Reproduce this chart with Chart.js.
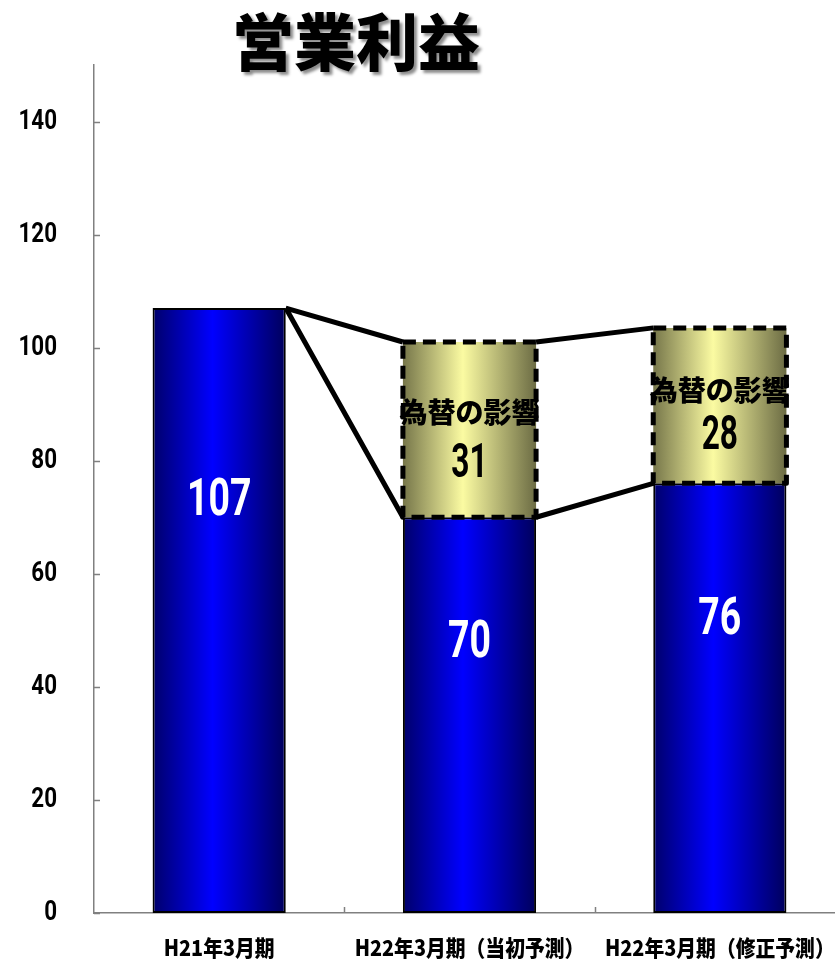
<!DOCTYPE html>
<html>
<head>
<meta charset="utf-8">
<script src="https://cdn.jsdelivr.net/npm/chart.js@4.4.0/dist/chart.umd.min.js"></script>
<style>
  html, body { margin: 0; padding: 0; background: #fff; overflow: hidden; }
  #wrap { position: relative; width: 845px; height: 960px; }
</style>
</head>
<body>
<div id="wrap"><canvas id="barChart"></canvas></div>
<script>
// 営業利益 (億円)
var title = '営業利益';
var categories = ['H21年3月期', 'H22年3月期（当初予測）', 'H22年3月期（修正予測）'];
var profitValues = [107, 70, 76];
var fxValues = [null, 31, 27.5];
var fxLabel = '為替の影響';
var yTicks = [0, 20, 40, 60, 80, 100, 120, 140];
var yMax = 150;

var BAR_PCT = 0.532;
var NUM_FONT = "Roboto, 'Noto Sans', sans-serif";
var JP_FONT = "'Noto Sans CJK JP', sans-serif";

// 横方向に縮めた文字（細長いフォントの代わり）
function drawNarrow(ctx, text, x, y, sx) {
  ctx.save();
  ctx.translate(x, y);
  ctx.scale(sx, 1);
  ctx.fillText(text, 0, 0);
  ctx.restore();
}

function makeGradient(ctx, el, stops) {
  var g = ctx.createLinearGradient(el.x - el.width / 2, 0, el.x + el.width / 2, 0);
  g.addColorStop(0, stops[0]);
  g.addColorStop(0.45, stops[1]);
  g.addColorStop(1, stops[2]);
  return g;
}

// 棒ごとのグラデーション（共有オプションを複製してから設定）
var barFill = {
  id: 'barFill',
  beforeDatasetsDraw: function (chart) {
    var stops = [['#00006a', '#0000ff', '#00005c'], ['#76764a', '#fbfba2', '#6c6c44']];
    [0, 1].forEach(function (d) {
      chart.getDatasetMeta(d).data.forEach(function (el) {
        el.options = Object.assign({}, el.options, {
          backgroundColor: makeGradient(chart.ctx, el, stops[d])
        });
      });
    });
  }
};

// 軸の目盛りと目盛りラベル
var axisTicks = {
  id: 'axisTicks',
  afterDraw: function (chart) {
    var ctx = chart.ctx, ys = chart.scales.y, xs = chart.scales.x;
    ctx.save();
    ctx.strokeStyle = '#808080';
    ctx.lineWidth = 1.5;
    ctx.beginPath();
    yTicks.forEach(function (v) {
      var py = Math.round(ys.getPixelForValue(v)) + 0.5;
      ctx.moveTo(xs.left, py);
      ctx.lineTo(xs.left + 6, py);
    });
    for (var i = 0; i < categories.length - 1; i++) {
      var px = Math.round((xs.getPixelForValue(i) + xs.getPixelForValue(i + 1)) / 2) + 0.5;
      ctx.moveTo(px, ys.bottom);
      ctx.lineTo(px, ys.bottom - 6);
    }
    ctx.stroke();

    ctx.fillStyle = '#000';
    ctx.textBaseline = 'middle';
    ctx.textAlign = 'right';
    ctx.font = 'bold 28px ' + NUM_FONT;
    yTicks.forEach(function (v) {
      drawNarrow(ctx, String(v), xs.left - 37, ys.getPixelForValue(v), 0.8);
    });
    ctx.textAlign = 'center';
    ctx.font = '900 22px ' + JP_FONT;
    categories.forEach(function (c, i) {
      drawNarrow(ctx, c, xs.getPixelForValue(i), ys.bottom + 35, 0.9);
    });
    ctx.restore();
  }
};

// タイトル・接続線・破線枠・ラベル
var decorations = {
  id: 'decorations',
  afterDatasetsDraw: function (chart) {
    var ctx = chart.ctx;
    var base = chart.getDatasetMeta(0).data;
    var fx = chart.getDatasetMeta(1).data;

    ctx.save();
    // 接続線
    ctx.strokeStyle = '#000';
    ctx.lineWidth = 5;
    ctx.lineJoin = 'round';
    ctx.beginPath();
    var b0 = base[0];
    var r0 = b0.x + b0.width / 2;
    ctx.moveTo(r0, b0.y);
    ctx.lineTo(fx[1].x - fx[1].width / 2, fx[1].y);
    ctx.moveTo(r0, b0.y);
    ctx.lineTo(fx[1].x - fx[1].width / 2, fx[1].base);
    ctx.moveTo(fx[1].x + fx[1].width / 2, fx[1].y);
    ctx.lineTo(fx[2].x - fx[2].width / 2, fx[2].y);
    ctx.moveTo(fx[1].x + fx[1].width / 2, fx[1].base);
    ctx.lineTo(fx[2].x - fx[2].width / 2, fx[2].base);
    ctx.stroke();

    // 破線枠
    ctx.setLineDash([13, 7]);
    ctx.lineWidth = 5;
    fx.forEach(function (el, i) {
      if (fxValues[i] == null) return;
      ctx.strokeRect(el.x - el.width / 2, el.y, el.width, el.base - el.y);
    });
    ctx.setLineDash([]);

    // 棒内ラベル
    ctx.textAlign = 'center';
    ctx.textBaseline = 'middle';
    ctx.fillStyle = '#fff';
    ctx.font = 'bold 52px ' + NUM_FONT;
    base.forEach(function (el, i) {
      var yy = el.base - (el.base - el.y) * 0.68;
      drawNarrow(ctx, String(profitValues[i]), el.x, yy, 0.72);
    });
    ctx.fillStyle = '#000';
    fx.forEach(function (el, i) {
      if (fxValues[i] == null) return;
      var h = el.base - el.y;
      ctx.font = '900 28px ' + JP_FONT;
      ctx.fillText(fxLabel, el.x, el.y + h * 0.4);
      ctx.font = 'bold 48px ' + NUM_FONT;
      drawNarrow(ctx, String(Math.round(fxValues[i])), el.x, el.y + h * 0.7, 0.66);
    });

    // タイトル
    ctx.font = '900 62px ' + JP_FONT;
    ctx.shadowColor = 'rgba(0,0,0,0.45)';
    ctx.shadowOffsetX = 3;
    ctx.shadowOffsetY = 3;
    ctx.shadowBlur = 3;
    ctx.fillText(title, 356, 42);
    ctx.restore();
  }
};

var ctx = document.getElementById('barChart').getContext('2d');
var barChart = new Chart(ctx, {
  type: 'bar',
  data: {
    labels: categories,
    datasets: [{
      data: profitValues,
      backgroundColor: '#0000ff',
      borderColor: '#000',
      borderWidth: 2,
      borderSkipped: false,
      barPercentage: BAR_PCT,
      categoryPercentage: 1
    }, {
      data: fxValues,
      backgroundColor: '#fbfba2',
      borderWidth: 0,
      barPercentage: BAR_PCT,
      categoryPercentage: 1
    }]
  },
  options: {
    responsive: true,
    maintainAspectRatio: false,
    animation: false,
    layout: { padding: { left: 18, right: 0, top: 65, bottom: 0 } },
    plugins: {
      legend: { display: false },
      tooltip: { enabled: false }
    },
    scales: {
      x: {
        stacked: true,
        grid: { display: false },
        border: { color: '#808080', width: 1.5 },
        ticks: { display: false },
        afterFit: function (scale) { scale.height = 47; }
      },
      y: {
        stacked: true,
        min: 0,
        max: yMax,
        grid: { display: false },
        border: { color: '#808080', width: 1.5 },
        ticks: { display: false },
        afterFit: function (scale) { scale.width = 76; }
      }
    }
  },
  plugins: [barFill, axisTicks, decorations]
});
</script>
</body>
</html>
